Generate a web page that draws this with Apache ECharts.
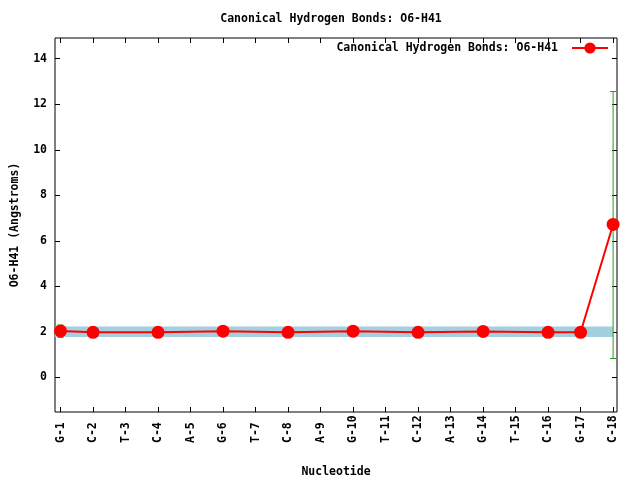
<!DOCTYPE html>
<html><head><meta charset="utf-8">
<script src="https://cdn.jsdelivr.net/npm/echarts@6/dist/echarts.min.js"></script>
<style>html,body{margin:0;padding:0;background:#fff}#c{width:640px;height:480px}</style>
</head><body><div id="c"></div>
<script>
var categories = ['G-1','C-2','T-3','C-4','A-5','G-6','T-7','C-8','A-9','G-10','T-11','C-12','A-13','G-14','T-15','C-16','G-17','C-18'];
var pointPositions = [1,2,4,6,8,10,12,14,16,17,18];
var bondValues = [2.04,1.98,1.98,2.03,1.98,2.03,1.98,2.02,1.98,1.98,6.72];
var errLow = [1.76,1.93,1.93,1.98,1.93,1.98,1.93,1.97,1.93,1.93,0.83];
var errHigh = [2.30,2.03,2.03,2.08,2.03,2.08,2.03,2.07,2.03,2.03,12.56];
var yTicks = [0,2,4,6,8,10,12,14];
var bandLow = 1.77, bandHigh = 2.24;
var seriesName = 'Canonical Hydrogen Bonds: O6-H41';
var titleText = 'Canonical Hydrogen Bonds: O6-H41';
var xTitle = 'Nucleotide';
var yTitle = 'O6-H41 (Angstroms)';

var FONT = 'DejaVu Sans Mono';
var xTicks = categories.map(function(_, i){ return i + 1; });
var lineData = pointPositions.map(function(p, i){ return [p, bondValues[i]]; });
var errData = pointPositions.map(function(p, i){ return [p, errLow[i], errHigh[i]]; });

var chart = echarts.init(document.getElementById('c'), null, {renderer:'canvas'});
var XMIN = 0.83, XMAX = 18.12, YMIN = -1.52, YMAX = 14.91;
var txt = {fontFamily: FONT, fontWeight: 'bold', fontSize: 11.5, color: '#000'};
chart.setOption({
  animation: false,
  title: {text: titleText, left: 326, textAlign: 'center', top: 8, textStyle: txt},
  legend: {right: 26, top: 37, align: 'right', itemWidth: 36, itemHeight: 14, itemGap: 0,
    textStyle: Object.assign({}, txt, {padding: [0, 9, 0, 0]}),
    data: [{name: seriesName}]},
  grid: {left: 55, right: 23, top: 38, bottom: 68, show: true, borderColor: '#000', borderWidth: 1,
    containLabel: false, outerBoundsMode: 'none'},
  xAxis: [{
    type: 'value', min: XMIN, max: XMAX, position: 'bottom',
    name: xTitle, nameLocation: 'middle', nameGap: 54, nameTextStyle: txt,
    axisLine: {show: false, onZero: false}, splitLine: {show: false},
    axisTick: {show: true, inside: true, length: 5, customValues: xTicks, lineStyle: {color: '#000'}},
    axisLabel: {show: true, rotate: 90, align: 'left', verticalAlign: 'middle', margin: 31, customValues: xTicks,
      fontFamily: FONT, fontWeight: 'bold', fontSize: 11.5, color: '#000',
      formatter: function(v){ return categories[Math.round(v) - 1] || ''; }}
  },{
    type: 'value', min: XMIN, max: XMAX, position: 'top',
    axisLine: {show: false, onZero: false}, splitLine: {show: false}, axisLabel: {show: false},
    axisTick: {show: true, inside: true, length: 5, customValues: xTicks, lineStyle: {color: '#000'}}
  }],
  yAxis: [{
    type: 'value', min: YMIN, max: YMAX, position: 'left',
    name: yTitle, nameLocation: 'middle', nameGap: 34, nameTextStyle: txt,
    axisLine: {show: false, onZero: false}, splitLine: {show: false},
    axisTick: {show: true, inside: true, length: 5, customValues: yTicks, lineStyle: {color: '#000'}},
    axisLabel: {show: true, margin: 8, customValues: yTicks, fontFamily: FONT, fontWeight: 'bold', fontSize: 11.5, color: '#000'}
  },{
    type: 'value', min: YMIN, max: YMAX, position: 'right',
    axisLine: {show: false, onZero: false}, splitLine: {show: false}, axisLabel: {show: false},
    axisTick: {show: true, inside: true, length: 5, customValues: yTicks, lineStyle: {color: '#000'}}
  }],
  series: [{
    type: 'line', name: 'band', data: [], silent: true,
    markArea: {silent: true, itemStyle: {color: '#a3d0df', opacity: 1},
      data: [[{coord: [XMIN, bandLow]}, {coord: [18, bandHigh]}]]}
  },{
    type: 'custom', name: 'err', data: errData, z: 3, silent: true,
    renderItem: function(params, api){
      var x = api.value(0), lo = api.coord([x, api.value(1)]), hi = api.coord([x, api.value(2)]);
      var c = {stroke: '#1ea01e', lineWidth: 1};
      var w = 3;
      return {type: 'group', children: [
        {type: 'line', shape: {x1: lo[0], y1: lo[1], x2: hi[0], y2: hi[1]}, style: c},
        {type: 'line', shape: {x1: lo[0]-w, y1: lo[1], x2: lo[0]+w, y2: lo[1]}, style: c},
        {type: 'line', shape: {x1: hi[0]-w, y1: hi[1], x2: hi[0]+w, y2: hi[1]}, style: c}
      ]};
    }
  },{
    type: 'line', name: seriesName, data: lineData, z: 4,
    symbol: 'circle', symbolSize: 13, showAllSymbol: true,
    lineStyle: {color: '#ff0000', width: 2}, itemStyle: {color: '#ff0000'}
  }]
});
</script></body></html>
